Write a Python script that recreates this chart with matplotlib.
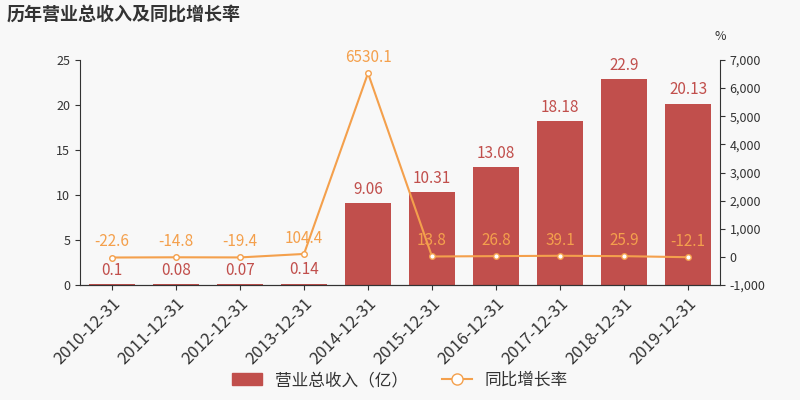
import matplotlib
matplotlib.use("Agg")
import matplotlib.pyplot as plt

plt.rcParams['font.family'] = ['Noto Sans CJK SC', 'DejaVu Sans']

years = ["2010-12-31","2011-12-31","2012-12-31","2013-12-31","2014-12-31",
         "2015-12-31","2016-12-31","2017-12-31","2018-12-31","2019-12-31"]
revenue = [0.1,0.08,0.07,0.14,9.06,10.31,13.08,18.18,22.9,20.13]
growth = [-22.6,-14.8,-19.4,104.4,6530.1,13.8,26.8,39.1,25.9,-12.1]
rev_labels = ["0.1","0.08","0.07","0.14","9.06","10.31","13.08","18.18","22.9","20.13"]
gr_labels = ["-22.6","-14.8","-19.4","104.4","6530.1","13.8","26.8","39.1","25.9","-12.1"]

bar_c = "#c14f4c"
line_c = "#f4a04c"
bg = "#f8f8f8"

fig = plt.figure(figsize=(8,4), dpi=100, facecolor=bg)
ax = fig.add_axes([0.1, 0.2875, 0.8, 0.5625], facecolor=bg)
ax2 = ax.twinx()
x = list(range(len(years)))
ax.bar(x, revenue, width=0.72, color=bar_c, zorder=2)
ax.set_ylim(0, 25)
ax.set_yticks([0,5,10,15,20,25])
ax.set_xlim(-0.5, 9.5)
ax.set_xticks(x)
ax.set_xticklabels(years, rotation=45, ha='right', rotation_mode='anchor', fontsize=12, color='#333333')
for i, v in enumerate(revenue):
    ax.text(i, v + 0.6, rev_labels[i], ha='center', va='bottom', color=bar_c, fontsize=11)

ax2.plot(x, growth, color=line_c, lw=1.5, marker='o', ms=4, mfc='white', mec=line_c, zorder=3)
ax2.set_ylim(-1000, 7000)
ax2.set_yticks(range(-1000, 7001, 1000))
ax2.set_yticklabels([f"{t:,}" for t in range(-1000, 7001, 1000)])
for i, v in enumerate(growth):
    ax2.text(i, v + 250, gr_labels[i], ha='center', va='bottom', color=line_c, fontsize=11)

for a in (ax, ax2):
    for s in ['top']:
        a.spines[s].set_visible(False)
    a.tick_params(colors='#333333', labelsize=9)
    for s in ['left','right','bottom']:
        a.spines[s].set_color('#333333')
ax.tick_params(axis='x', labelsize=12)
ax.spines['right'].set_visible(False)
ax2.spines['left'].set_visible(False)

fig.text(0.008, 0.965, "历年营业总收入及同比增长率", fontsize=13, fontweight='bold', color='#333333', va='center')
fig.text(0.893, 0.9, "%", fontsize=9, color='#333333')

from matplotlib.patches import Patch
from matplotlib.lines import Line2D
handles = [Patch(color=bar_c), Line2D([0],[0], color=line_c, marker='o', mfc='white', ms=8)]
fig.legend(handles, ["营业总收入（亿）", "同比增长率"], loc='lower center', bbox_to_anchor=(0.5, -0.01),
           ncol=2, frameon=False, fontsize=12, labelcolor='#333333', handlelength=1.8)
fig.savefig("out.png", dpi=100, facecolor=bg)
